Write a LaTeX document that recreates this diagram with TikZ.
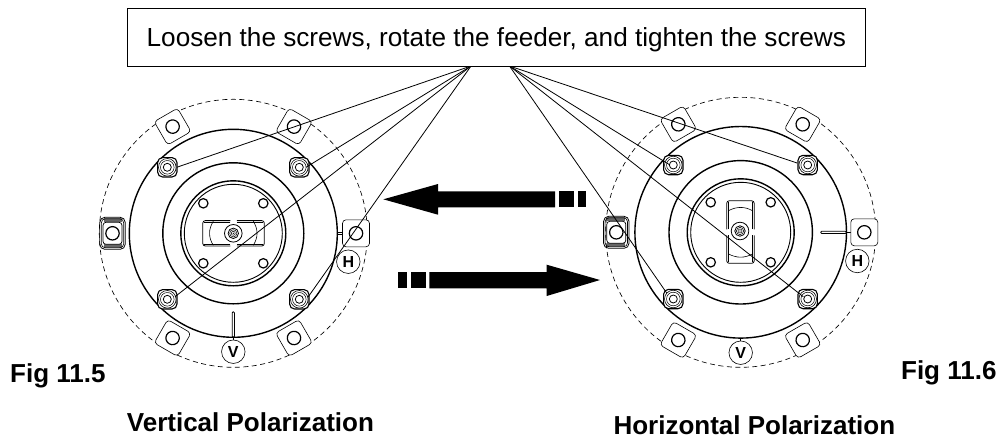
\documentclass[tikz,border=0pt]{standalone}
\usepackage{fontspec}
\setmainfont{Liberation Sans}
\newcommand{\fsz}[1]{\fontsize{#1}{#1}\selectfont}
\tikzset{
  ring/.style={draw=black,line width=1.4pt,fill=none},
  thinring/.style={draw=black,line width=0.9pt,fill=none},
  dashring/.style={draw=black,line width=0.65pt,dash pattern=on 5pt off 3.5pt},
  lead/.style={draw=black,line width=0.8pt},
  tabbox/.style={draw=black,line width=0.6pt,fill=white,rounded corners=3.5pt},
  heavy/.style={fill=black,draw=none},
  slot/.style={draw=black,line width=0.8pt,rounded corners=2.5pt},
  fine/.style={draw=black,line width=0.6pt},
  stem/.style={draw=black,line width=0.8pt,rounded corners=1pt},
  label/.style={font=\fsz{26}\bfseries,inner sep=0pt},
  circlab/.style={draw=black,line width=0.6pt,circle,minimum size=23.5pt,inner sep=0pt,fill=white,font=\fsz{16}\bfseries},
}
\newcommand{\mytab}[3]{% x y angle
  \begin{scope}[shift={(#1,#2)},rotate=#3]
    \draw[tabbox] (-13.5,-13.5) rectangle (13.5,13.5);
    \draw[line width=1.2pt] (0,0) circle (6.7);
  \end{scope}}
\newcommand{\mybolt}[2]{%
  \begin{scope}[shift={(#1,#2)}]
    \draw[line width=1.1pt,rounded corners=5pt,fill=white] (-9.7,-9.7) rectangle (9.7,9.7);
    \draw[line width=0.6pt,fill=white] (0,0) circle (8.8);
    \draw[line width=0.5pt] (0,0) circle (6.8);
    \draw[line width=0.8pt] (0,0) circle (4);
  \end{scope}}
\newcommand{\myhextab}[2]{%
  \begin{scope}[shift={(#1,#2)}]
    \draw[line width=0.8pt,rounded corners=5pt] (-12.7,-16) rectangle (12.7,16);
    \fill[black!60] (-9,-15) rectangle (9,-11);
    \fill[black!60] (-9,11) rectangle (9,15);
    \draw[line width=0.6pt,rounded corners=4pt] (-11.2,-14.5) rectangle (11.2,14.5);
    \draw[line width=0.7pt,rounded corners=3pt,fill=white] (-9.5,-11) rectangle (9.5,11);
    \draw[line width=1.2pt] (0,0) circle (6.7);
  \end{scope}}
\newcommand{\hub}{%
  \fill[white] (0,0) circle (9);
  \draw[line width=0.8pt] (0,0) circle (8.8);
  \draw[line width=0.8pt] (0,0) circle (5.2);
  \draw[line width=0.5pt] (0,0) circle (3.6);
  \draw[line width=0.5pt] (0,0) circle (2);
  \fill (0,0) circle (0.7);}
\begin{document}
\begin{tikzpicture}[x=1pt,y=-1pt]
\useasboundingbox (0,0) rectangle (1000,440);
\coordinate (apexL) at (471,66);
\coordinate (apexR) at (509.5,66);
% LEFT unit
\begin{scope}[shift={(233.3,233.3)}]
  \draw[dashring] (0,0) circle (134);
  \draw[ring] (0,0) circle (104);
  \draw[ring] (0,0) circle (70.5);
  \draw[ring] (0,0) circle (52.5);
  \draw[thinring] (0,0) circle (49);
  \foreach \x/\y in {-30/-30,30/-30,-30/30,30/30}
    \draw[line width=1.2pt] (\x,\y) circle (4.7);
  \draw[slot] (-3,-12.7) -- (-30.5,-12.7) -- (-30.5,12.7) -- (-3,12.7);
  \draw[slot] (3.5,-12.7) -- (31,-12.7) -- (31,12.7) -- (3.5,12.7);
  \draw[fine] (-3,-11.2) -- (-29,-11.2) (-3,11.2) -- (-29,11.2);
  \draw[fine] (3.5,-11.2) -- (29.5,-11.2) (3.5,11.2) -- (29.5,11.2);
  \draw[fine] (-20,-12) .. controls (-25,-4) and (-25,4) .. (-20,12);
  \draw[fine] (20,-12) .. controls (25,-4) and (25,4) .. (20,12);
  \hub
  \draw[stem] (-1.1,78.5) rectangle (1.1,104);
  \draw[fine] (104,-1) -- (113,-1) (104,1) -- (113,1);
  \draw[fine] (0,104) -- (0,107);
\end{scope}
\mytab{172.6}{126.6}{30}
\mytab{294}{126.6}{-30}
\mytab{172.6}{338}{-30}
\mytab{294}{338}{30}
\mytab{356}{233.3}{0}
\myhextab{112.5}{233.3}
\mybolt{167.3}{167.3}\mybolt{299.3}{167.3}\mybolt{167.3}{299.3}\mybolt{299.3}{299.3}
\node[circlab] (hL) at (348.3,261.7) {H};
\node[circlab] (vL) at (233.3,351.7) {V};
% RIGHT unit
\begin{scope}[shift={(740.7,232.3)}]
  \draw[dashring] (0,0) circle (135);
  \draw[ring] (0,0) circle (105.8);
  \draw[ring] (0,0) circle (71.7);
  \draw[ring] (0,0) circle (53.5);
  \draw[thinring] (0,0) circle (50);
  \foreach \x/\y in {-30/-30,30/-30,-30/30,30/30}
    \draw[line width=1.2pt] (\x,\y) circle (4.7);
  \draw[slot] (-14,-3) -- (-14,-31.5) -- (13.5,-31.5) -- (13.5,-3);
  \draw[slot] (-14,3) -- (-14,31) -- (13.5,31) -- (13.5,3);
  \draw[fine] (-12.5,-3) -- (-12.5,-30) (12,-3) -- (12,-30);
  \draw[fine] (-12.5,3) -- (-12.5,29.5) (12,3) -- (12,29.5);
  \draw[fine] (-12.5,-21.5) .. controls (-4,-26) and (4,-26) .. (12,-21.5);
  \draw[fine] (-12.5,21.5) .. controls (-4,26) and (4,26) .. (12,21.5);
  \begin{scope}[shift={(-0.7,-1.3)}]\hub\end{scope}
  \draw[stem] (80,-1.1) rectangle (105.8,1.1);
  \draw[stem] (105.8,0) -- (112,0);
  \draw[fine] (0,105.8) -- (0,109);
\end{scope}
\mytab{678.3}{124.3}{30}
\mytab{802.7}{124.3}{-30}
\mytab{678.3}{340}{-30}
\mytab{802.7}{340}{30}
\mytab{864.3}{232.3}{0}
\myhextab{616.3}{232.3}
\mybolt{673.3}{165}\mybolt{807.7}{165}\mybolt{673.3}{299}\mybolt{807.7}{299}
\node[circlab] (hR) at (857.3,261) {H};
\node[circlab] (vR) at (740.7,352.7) {V};
% Arrows
\fill[heavy] (383.3,199.3) -- (438,184) -- (438,191.3) -- (555,191.3) -- (555,207.3) -- (438,207.3) -- (438,214.7) -- cycle;
\fill[heavy] (559.3,191.3) rectangle (573.7,207.3);
\fill[heavy] (577.7,191.3) rectangle (586.3,207.3);
\fill[heavy] (600,280) -- (546.7,264.7) -- (546.7,272) -- (429.3,272) -- (429.3,288.3) -- (546.7,288.3) -- (546.7,296) -- cycle;
\fill[heavy] (411.3,272) rectangle (425.7,288.3);
\fill[heavy] (398.3,272) rectangle (407,288.3);
% Leaders
\draw[lead] (apexL) -- (176.7,167.3);
\draw[lead] (apexL) -- (306,167.3);
\draw[lead] (apexL) -- (175,296.7);
\draw[lead] (apexL) -- (308.3,296.7);
\draw[lead] (apexR) -- (797,163);
\draw[lead] (apexR) -- (670,165);
\draw[lead] (apexR) -- (803.3,296.7);
\draw[lead] (apexR) -- (666.7,293);
% Box and text
\node[draw=black,line width=0.9pt,fill=white,minimum width=737.7pt,minimum height=58pt,inner sep=0pt] (box) at (496.2,37.3) {};
\node[font=\fsz{26.15},inner sep=0pt,anchor=base west] (boxtext) at (146.5,46.5) {Loosen the screws, rotate the feeder, and tighten the screws};
\node[label,anchor=base west] (f5) at (10,382.7) {Fig 11.5};
\node[label,anchor=base east] (f6) at (996.7,379.3) {Fig 11.6};
\node[label,anchor=base west] (vp) at (126.7,431.7) {Vertical Polarization};
\node[label,anchor=base west] (hp) at (613.3,434.3) {Horizontal Polarization};
\end{tikzpicture}
\end{document}
